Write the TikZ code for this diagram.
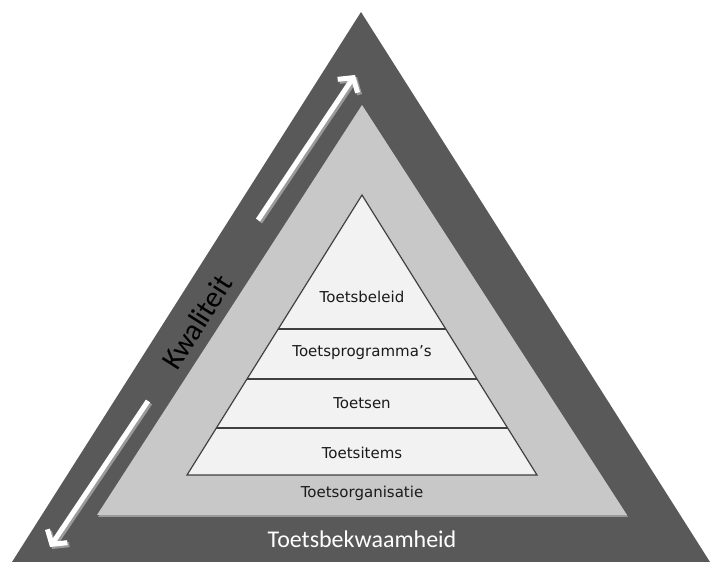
\documentclass[tikz,border=0pt]{standalone}
\usepackage{fontspec}
\setmainfont{DejaVu Sans}
\newfontfamily\calib{Carlito}
\usetikzlibrary{calc,arrows.meta}
\definecolor{darkg}{HTML}{595959}
\definecolor{midg}{HTML}{C8C8C8}
\definecolor{paleg}{HTML}{F2F2F2}
\definecolor{lineg}{HTML}{404040}
\definecolor{shadg}{HTML}{9A9A9A}
\definecolor{txt}{HTML}{1A1A1A}
\tikzset{
  layertext/.style={font=\fontsize{15}{18}\selectfont, text=txt, inner sep=0pt},
  bigtext/.style={font=\calib\fontsize{24}{28}\selectfont, inner sep=0pt},
  arrowline/.style={line width=5pt, -{Straight Barb[length=10pt,width=24pt]}},
  layerline/.style={draw=lineg, line width=1.6pt}
}
\begin{document}
\begin{tikzpicture}[x=1pt,y=1pt]
\useasboundingbox (0,0) rectangle (715,562);
% outer triangle
\coordinate (oA) at (361,550);
\coordinate (oB) at (12,0);
\coordinate (oC) at (710,0);
\fill[darkg] (oA) -- (oB) -- (oC) -- cycle;
% middle triangle with shadow
\coordinate (mA) at (362,457);
\coordinate (mB) at (97,47);
\coordinate (mC) at (627,47);
\fill[shadg] ([xshift=1pt,yshift=-2pt]mA) -- ([xshift=1pt,yshift=-2pt]mB) -- ([xshift=1pt,yshift=-2pt]mC) -- cycle;
\fill[midg] (mA) -- (mB) -- (mC) -- cycle;
% inner pyramid
\coordinate (iA) at (362,367);
\coordinate (iB) at (187,87);
\coordinate (iC) at (537,87);
\draw[fill=paleg, draw=lineg, line width=1.2pt, line join=miter] (iA) -- (iB) -- (iC) -- cycle;
\coordinate (l1a) at ($(iA)!0.4786!(iB)$);
\coordinate (l1b) at ($(iA)!0.4786!(iC)$);
\coordinate (l2a) at ($(iA)!0.657!(iB)$);
\coordinate (l2b) at ($(iA)!0.657!(iC)$);
\coordinate (l3a) at ($(iA)!0.832!(iB)$);
\coordinate (l3b) at ($(iA)!0.832!(iC)$);
\draw[layerline] (l1a) -- (l1b);
\draw[layerline] (l2a) -- (l2b);
\draw[layerline] (l3a) -- (l3b);
% labels
\node[layertext] (beleid) at (362,265) {Toetsbeleid};
\node[layertext] (prog) at (362,209) {Toetsprogramma’s};
\node[layertext] (toetsen) at (362,159) {Toetsen};
\node[layertext] (items) at (362,109) {Toetsitems};
\node[layertext] (org) at (362,69) {Toetsorganisatie};
\node[bigtext, text=white] (bekw) at (362,23) {Toetsbekwaamheid};
\node[font=\calib\fontsize{30}{34}\selectfont, text=black, inner sep=0pt, rotate=57.6] (kwal) at (197,240) {Kwaliteit};
% arrows
\coordinate (uT) at (258,342);
\coordinate (uH) at (355,487);
\coordinate (dT) at (148,161);
\coordinate (dH) at (50,15);
\draw[arrowline, shadg] ([xshift=2pt,yshift=-2pt]uT) -- ([xshift=2pt,yshift=-2pt]uH);
\draw[arrowline, white] (uT) -- (uH);
\draw[arrowline, shadg] ([xshift=2pt,yshift=-2pt]dT) -- ([xshift=2pt,yshift=-2pt]dH);
\draw[arrowline, white] (dT) -- (dH);
\end{tikzpicture}
\end{document}
